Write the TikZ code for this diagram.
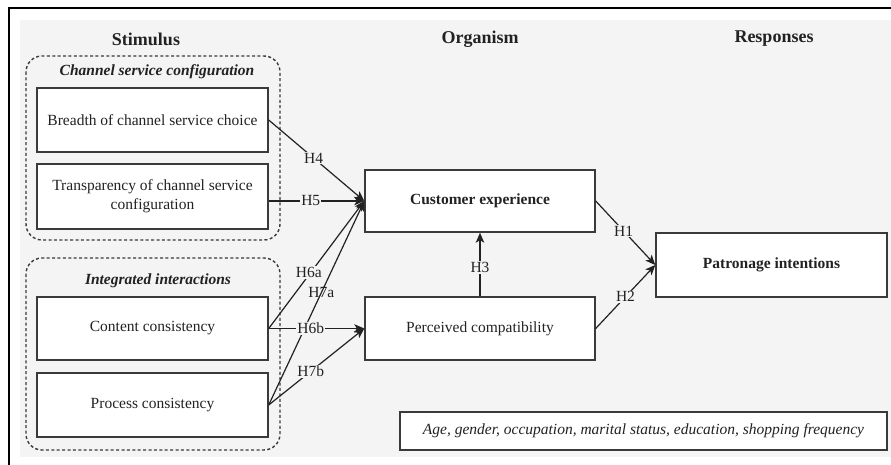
\documentclass[tikz,border=0pt]{standalone}
\usepackage{fontspec}
\setmainfont{Liberation Serif}
\usetikzlibrary{arrows.meta}
\definecolor{bggray}{HTML}{F4F4F4}
\definecolor{ink}{HTML}{222222}
\definecolor{edge}{HTML}{3A3A3A}
\tikzset{
  heading/.style={font=\fontsize{18}{21}\selectfont\bfseries, text=ink},
  grouptitle/.style={font=\fontsize{15.5}{19}\selectfont\bfseries\itshape, text=ink},
  var/.style={draw=edge, line width=1.4pt, fill=white, minimum width=231pt, minimum height=64pt,
    inner sep=0pt, align=center, font=\fontsize{15.5}{19}\selectfont, text=ink},
  grp/.style={draw=edge, line width=1.4pt, dash pattern=on 3pt off 2.4pt, rounded corners=16pt},
  link/.style={draw=ink, line width=1.2pt, -{Stealth[length=10pt,width=8.5pt,inset=2.5pt]}},
  hlab/.style={fill=bggray, inner sep=1pt, font=\fontsize{15.5}{19}\selectfont, text=ink},
}
\begin{document}
\begin{tikzpicture}[x=1pt,y=-1pt]
\useasboundingbox (0,0) rectangle (891,465);
\fill[white] (0,0) rectangle (891,465);
\fill[bggray] (20,20) rectangle (891,457);
\draw[black, line width=2pt] (9,465) -- (9,8) -- (891,8);

% headings
\node[heading] (stim) at (146,39) {Stimulus};
\node[heading] (org) at (480,39) {Organism};
\node[heading] (resp) at (774,39) {Responses};

% groups
\draw[grp] (26,56) rectangle (280,240);
\draw[grp] (26,258) rectangle (280,450);
\node[grouptitle] (g1t) at (157,72) {Channel service configuration};
\node[grouptitle] (g2t) at (158,281) {Integrated interactions};

% stimulus boxes
\node[var] (breadth) at (152.5,120) {Breadth of channel service choice};
\node[var, minimum height=65pt] (trans) at (152.5,196.5) {Transparency of channel service\\configuration};
\node[var, minimum height=63pt] (content) at (152.5,328.5) {Content consistency};
\node[var] (process) at (152.5,405) {Process consistency};

% organism boxes
\node[var, minimum width=230pt, minimum height=62pt, font=\fontsize{15.5}{19}\selectfont\bfseries] (ce) at (480,201) {Customer experience};
\node[var, minimum width=230pt, minimum height=63pt] (pc) at (480,328.5) {Perceived compatibility};

% response box
\node[var, minimum width=231pt, minimum height=64pt, font=\fontsize{15.5}{19}\selectfont\bfseries] (pi) at (771.5,265) {Patronage intentions};

% controls
\node[var, minimum width=487pt, minimum height=38pt, font=\fontsize{15.5}{19}\selectfont\itshape] (ctrl) at (643.5,431) {Age, gender, occupation, marital status, education, shopping frequency};

% links
\draw[link] (breadth.east) -- node[hlab, pos=0.47] (h4) {H4} (ce.west);
\draw[link] (trans.east |- ce.west) -- node[hlab, pos=0.44] (h5) {H5} (ce.west);
\draw[link] (content.east) -- node[hlab, pos=0.44, xshift=-2pt] (h6a) {H6a} (ce.west);
\draw[link] (process.east) -- node[hlab, pos=0.55, fill=none] (h7a) {H7a} (ce.west);
\draw[link] (content.east) -- node[hlab, pos=0.44] (h6b) {H6b} (pc.west);
\draw[link] (process.east) -- node[hlab, pos=0.44] (h7b) {H7b} (pc.west);
\draw[link] (pc.north) -- node[hlab, pos=0.45] (h3) {H3} (ce.south);
\draw[link] (ce.east) -- node[hlab, pos=0.47] (h1) {H1} (pi.west);
\draw[link] (pc.east) -- node[hlab, pos=0.5] (h2) {H2} (pi.west);
\end{tikzpicture}
\end{document}
